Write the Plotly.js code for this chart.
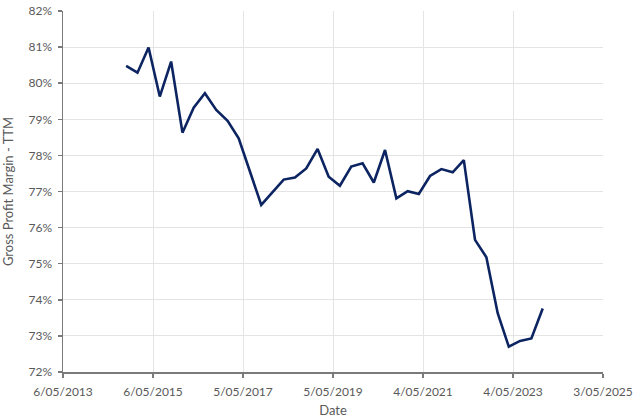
<!DOCTYPE html>
<html>
<head>
<meta charset="utf-8">
<script src="https://cdn.plot.ly/plotly-3.0.1.min.js"></script>
<style>
  html, body { margin: 0; padding: 0; background: #fff; }
  #chart { width: 640px; height: 418px; }
</style>
</head>
<body>
<div id="chart"></div>
<script>
// quarter-end dates and gross margin TTM (%)
let dates = [
    "2014-09-30", "2014-12-31", "2015-03-31", "2015-06-30", "2015-09-30", "2015-12-31",
    "2016-03-31", "2016-06-30", "2016-09-30", "2016-12-31", "2017-03-31", "2017-06-30",
    "2017-09-30", "2017-12-31", "2018-03-31", "2018-06-30", "2018-09-30", "2018-12-31",
    "2019-03-31", "2019-06-30", "2019-09-30", "2019-12-31", "2020-03-31", "2020-06-30",
    "2020-09-30", "2020-12-31", "2021-03-31", "2021-06-30", "2021-09-30", "2021-12-31",
    "2022-03-31", "2022-06-30", "2022-09-30", "2022-12-31", "2023-03-31", "2023-06-30",
    "2023-09-30", "2023-12-31"
];
let grossMargin = [
    80.48, 80.29, 80.99, 79.63, 80.60, 78.63,
    79.32, 79.72, 79.26, 78.96, 78.47, 77.55,
    76.63, 76.98, 77.33, 77.39, 77.64, 78.18,
    77.41, 77.16, 77.69, 77.78, 77.25, 78.15,
    76.81, 77.01, 76.93, 77.43, 77.62, 77.53,
    77.87, 75.66, 75.18, 73.63, 72.70, 72.86,
    72.93, 73.76
];
let xTickVals = ["2013-05-06", "2015-05-06", "2017-05-05", "2019-05-05", "2021-05-04", "2023-05-04", "2025-05-03"];
let xTickText = ["6/05/2013", "6/05/2015", "5/05/2017", "5/05/2019", "4/05/2021", "4/05/2023", "3/05/2025"];
let yTickVals = [72, 73, 74, 75, 76, 77, 78, 79, 80, 81, 82];

let font = "Lato, 'Open Sans', sans-serif";
let textGrey = "#595959";

let trace = {
    x: dates,
    y: grossMargin,
    type: "scatter",
    mode: "lines",
    line: { color: "#0c2461", width: 2.6 },
    hoverinfo: "skip"
};

let layout = {
    width: 640,
    height: 418,
    margin: { l: 63, r: 37, t: 11, b: 46 },
    paper_bgcolor: "#fff",
    plot_bgcolor: "#fff",
    showlegend: false,
    font: { family: font, color: textGrey, size: 11 },
    xaxis: {
        type: "date",
        range: [xTickVals[0], xTickVals[xTickVals.length - 1]],
        tickmode: "array",
        tickvals: xTickVals,
        ticktext: xTickText,
        showgrid: true,
        gridcolor: "#e4e4e4",
        gridwidth: 1,
        showline: true,
        linecolor: "#7a7a7a",
        linewidth: 1.5,
        ticks: "outside",
        ticklen: 4,
        tickcolor: "#7a7a7a",
        tickwidth: 1.5,
        ticklabelstandoff: 4,
        tickfont: { size: 12, color: textGrey },
        zeroline: false,
        title: { text: "Date", font: { size: 13, color: textGrey }, standoff: 8 }
    },
    yaxis: {
        range: [72, 82],
        tickmode: "array",
        tickvals: yTickVals,
        ticktext: yTickVals.map(v => v + "%"),
        showgrid: true,
        gridcolor: "#e4e4e4",
        gridwidth: 1,
        showline: true,
        linecolor: "#7a7a7a",
        linewidth: 1.5,
        ticks: "outside",
        ticklen: 4,
        tickcolor: "#7a7a7a",
        tickwidth: 1.5,
        ticklabelstandoff: 3,
        tickfont: { size: 12, color: textGrey },
        zeroline: false,
        title: { text: "Gross Profit Margin - TTM", font: { size: 13, color: textGrey }, standoff: 12 }
    }
};

Plotly.newPlot("chart", [trace], layout, { displayModeBar: false, staticPlot: true });
</script>
</body>
</html>
